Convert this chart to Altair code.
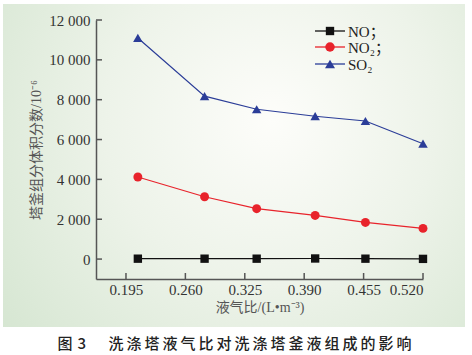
import altair as alt
import pandas as pd

# ---- data ----
ratio = [0.208, 0.281, 0.338, 0.402, 0.457, 0.520]
series = ["NO；", "NO₂；", "SO₂"]
no_vals = [20, 20, 20, 30, 20, 10]
no2_vals = [4120, 3130, 2530, 2190, 1840, 1540]
so2_vals = [11100, 8180, 7520, 7170, 6930, 5790]
x_ticks = [0.195, 0.260, 0.325, 0.390, 0.455, 0.520]
y_ticks = [0, 2000, 4000, 6000, 8000, 10000, 12000]
colors = ["#111111", "#e8232b", "#2b3d98"]
shapes = ["square", "circle", "triangle-up"]
sizes = [70, 90, 100]

rows = []
for name, vals in zip(series, [no_vals, no2_vals, so2_vals]):
    for r, v in zip(ratio, vals):
        rows.append({"ratio": r, "value": v, "series": name})
df = pd.DataFrame(rows)

x_title = "液气比/(L•m⁻³)"
y_title = "塔釜组分体积分数/10⁻⁶"
caption = "图\u20043\u2003\u2002" + "\u2009".join("洗涤塔液气比对洗涤塔釜液组成的影响")

serif = "Liberation Serif, Noto Sans CJK SC"
axis_col = "#555555"

W, H = 327, 259
xs = alt.Scale(domain=[0.1622, 0.520], nice=False, zero=False)
ys = alt.Scale(domain=[-1000, 12000], nice=False)
cs = alt.Scale(domain=series, range=colors)
shs = alt.Scale(domain=series, range=shapes)
szs = alt.Scale(domain=series, range=sizes)

one = pd.DataFrame({"a": [0]})

bg = alt.Chart(one).mark_rect(
    fill=alt.Gradient(
        gradient="radial",
        x1=0.58, y1=0.40, r1=0.0,
        x2=0.58, y2=0.40, r2=0.80,
        stops=[
            alt.GradientStop(color="#fdfdfa", offset=0),
            alt.GradientStop(color="#edf3e9", offset=0.45),
            alt.GradientStop(color="#d2e4ce", offset=1),
        ],
    )
).encode(
    x=alt.value(-93), x2=alt.value(369), y=alt.value(-16), y2=alt.value(307)
)

x_enc = alt.X(
    "ratio:Q", scale=xs, title=x_title,
    axis=alt.Axis(values=x_ticks, format=".3f", grid=False, ticks=False, zindex=1,
                  labelPadding=3, titlePadding=3),
)
y_enc = alt.Y(
    "value:Q", scale=ys, title=y_title,
    axis=alt.Axis(values=y_ticks, grid=False, ticks=False, zindex=1,
                  labelExpr="replace(format(datum.value, ','), ',', ' ')",
                  labelPadding=6, titleX=-53),
)

lines = alt.Chart(df).mark_line(strokeWidth=1.2).encode(
    x=x_enc, y=y_enc,
    color=alt.Color("series:N", scale=cs, legend=None),
    detail="series:N",
)
points = alt.Chart(df).mark_point(filled=True, opacity=1).encode(
    x=x_enc, y=y_enc,
    color=alt.Color("series:N", scale=cs, legend=None),
    shape=alt.Shape("series:N", scale=shs, legend=None),
    size=alt.Size("series:N", scale=szs, legend=None),
)

# inward ticks
xt = alt.Chart(pd.DataFrame({"ratio": x_ticks})).mark_rule(
    color=axis_col, strokeWidth=1.5
).encode(x=alt.X("ratio:Q", scale=xs), y=alt.value(H), y2=alt.value(H - 6))
yt = alt.Chart(pd.DataFrame({"value": y_ticks})).mark_rule(
    color=axis_col, strokeWidth=1.5
).encode(y=alt.Y("value:Q", scale=ys), x=alt.value(0), x2=alt.value(6))

# hand-made legend (line + marker + label)
leg_rows = [11, 27, 44]
leg_layers = []
for name, col, shp, sz, ry in zip(series, colors, shapes, sizes, leg_rows):
    leg_layers.append(alt.Chart(one).mark_rule(strokeWidth=1.3, color=col).encode(
        x=alt.value(219), x2=alt.value(249), y=alt.value(ry)))
    leg_layers.append(alt.Chart(one).mark_point(
        filled=True, opacity=1, color=col, shape=shp, size=sz).encode(
        x=alt.value(234), y=alt.value(ry)))
    leg_layers.append(alt.Chart(one).mark_text(
        align="left", baseline="middle", font=serif, fontSize=15,
        color="#222222", dy=1, text=name).encode(
        x=alt.value(252), y=alt.value(ry)))

chart = alt.layer(bg, lines, points, xt, yt, *leg_layers).properties(
    width=W, height=H,
    autosize=alt.AutoSizeParams(type="none"),
    padding={"left": 96, "top": 20, "right": 49, "bottom": 76},
    title=alt.TitleParams(
        caption, orient="bottom", anchor="middle", frame="group", dx=-25, offset=10,
        font="Noto Sans CJK SC", fontSize=15, fontWeight=500, color="#222222",
    ),
).configure_view(stroke=None).configure(background="white").configure_axis(
    domainColor=axis_col, domainWidth=1.5,
    labelFont=serif, labelFontSize=15, labelColor="#333333",
    titleFont=serif, titleFontSize=14, titleFontWeight="normal", titleColor="#555555",
)

chart.save("out.html", embed_options={"renderer": "svg", "actions": False})
